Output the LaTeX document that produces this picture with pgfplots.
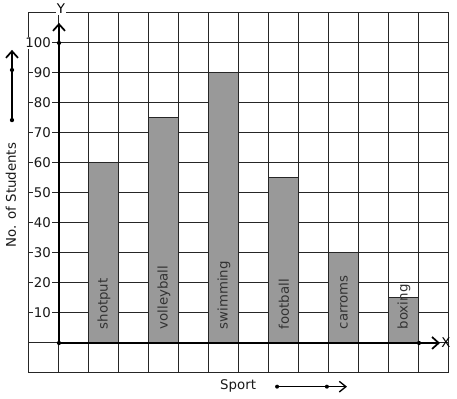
\documentclass[border=0pt]{standalone}
\usepackage{fontspec}
\setmainfont{DejaVu Sans}
\usepackage{pgfplots}
\pgfplotsset{compat=1.18}
\usetikzlibrary{arrows.meta}
\begin{document}
\begin{tikzpicture}[font=\fontsize{10}{12}\selectfont]
\begin{axis}[
  scale only axis, width=315pt, height=270pt,
  xmin=-1, xmax=13, ymin=-10, ymax=110,
  xtick={-1,0,...,13}, ytick={-10,0,...,110},
  xticklabels={}, yticklabels={},
  major tick length=0pt,
  grid=major,
  grid style={black!85, line width=0.75pt},
  axis line style={black!85, line width=0.75pt},
  clip=false,
]
\path (axis cs:-1.9667,114.33) rectangle (axis cs:13.267,-18.67);
\addplot[ybar, bar width=1, fill=black!40, draw=black!85, line width=0.75pt]
  coordinates {(1.5,60) (3.5,75) (5.5,90) (7.5,55) (9.5,30) (11.5,15)};
% axes
\draw[line width=1.8pt, -{Straight Barb[length=5pt,width=9pt,line width=1.3pt]}] (axis cs:0,0) -- (axis cs:0,106.7);
\draw[line width=1.8pt, -{Straight Barb[length=5pt,width=9pt,line width=1.3pt]}] (axis cs:0,0) -- (axis cs:12.7,0);
\fill (axis cs:0,0) circle (1.6pt);
\fill (axis cs:0,100) circle (1.6pt);
\fill (axis cs:12,0) circle (1.6pt);
\node[fill=white, inner sep=0.5pt] at (axis cs:0.067,111.3) {Y};
\node[inner sep=0.5pt] at (axis cs:12.9,0) {X};
% y tick labels
\pgfplotsinvokeforeach{10,20,...,100}{
  \node[anchor=east, fill=white, inner xsep=0.6pt, inner ysep=0.5pt, text=black!90] at (axis cs:-0.233,#1) {#1};
}
% bar labels
\node[rotate=90, anchor=west, text=black!80] at (axis cs:1.5,3) {shotput};
\node[rotate=90, anchor=west, text=black!80] at (axis cs:3.5,3) {volleyball};
\node[rotate=90, anchor=west, text=black!80] at (axis cs:5.5,3) {swimming};
\node[rotate=90, anchor=west, text=black!80] at (axis cs:7.5,3) {football};
\node[rotate=90, anchor=west, text=black!80] at (axis cs:9.5,3) {carroms};
\node[rotate=90, anchor=west, text=black!80] at (axis cs:11.5,3) {boxing};
% left label and arrow
\node[rotate=90, text=black!90] at (axis cs:-1.6,49.3) {No. of Students};
\draw[line width=1.8pt, -{Straight Barb[length=5pt,width=9pt,line width=1.3pt]}] (axis cs:-1.567,74.3) -- (axis cs:-1.567,97.7);
\fill (axis cs:-1.567,74.3) circle (1.6pt);
\fill (axis cs:-1.567,91) circle (1.6pt);
% bottom label and arrow
\node[text=black!90] at (axis cs:5.97,-14.2) {Sport};
\draw[line width=1.2pt, -{Straight Barb[length=5pt,width=8pt,line width=1pt]}] (axis cs:7.27,-14.56) -- (axis cs:9.6,-14.56);
\fill (axis cs:7.27,-14.56) circle (1.5pt);
\fill (axis cs:8.93,-14.56) circle (1.5pt);
\end{axis}
\end{tikzpicture}
\end{document}
